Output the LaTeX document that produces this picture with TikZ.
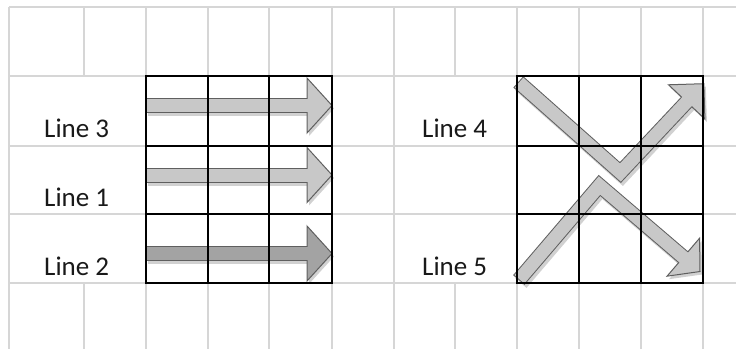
\documentclass[tikz,border=0pt]{standalone}
\usepackage{fontspec}
\setmainfont{Carlito}
\usetikzlibrary{calc}
\definecolor{cellgray}{RGB}{214,214,214}
\definecolor{arrowline}{RGB}{95,95,95}
\definecolor{arrowlight}{RGB}{200,200,200}
\definecolor{arrowdark}{RGB}{163,163,163}

\begin{document}
\begin{tikzpicture}[x=1pt, y=-1pt,
    cell/.style={draw=cellgray, line width=1.5pt},
    box/.style={draw=black, line width=1.1pt, line cap=rect},
    linelabel/.style={font=\fontsize{27}{32}\selectfont, text=black!90, inner sep=0pt, anchor=base west},
    shaftout/.style={line width=15pt, line join=miter},
    shaftin/.style={line width=13pt, line join=miter, shorten <=1pt, shorten >=-3pt}]
    \useasboundingbox (0,0) rectangle (736,349);

    % spreadsheet cells
    \foreach \y in {7,76,146,214,283}
        \draw[cell] (9,\y) -- (736,\y);
    \foreach \x in {9,146,208,269,332,394,517,579,641,703}
        \draw[cell] (\x,7) -- (\x,349);
    \foreach \x in {84,455} {
        \draw[cell] (\x,7) -- (\x,76);
        \draw[cell] (\x,283) -- (\x,349);
    }

    % labels
    \node[linelabel] (line3) at (44,137) {Line 3};
    \node[linelabel] (line1) at (44,206.5) {Line 1};
    \node[linelabel] (line2) at (44,275) {Line 2};
    \node[linelabel] (line4) at (422,137) {Line 4};
    \node[linelabel] (line5) at (422,275) {Line 5};

    % arrow paths: start, bend, head base, tip
    \coordinate (s3) at (146,105.5); \coordinate (v3) at (226,105.5);
    \coordinate (b3) at (307,105.5); \coordinate (t3) at (332,105.5);
    \coordinate (s1) at (146,175);   \coordinate (v1) at (226,175);
    \coordinate (b1) at (307,175);   \coordinate (t1) at (332,175);
    \coordinate (s2) at (146,253.5); \coordinate (v2) at (226,253.5);
    \coordinate (b2) at (307,253.5); \coordinate (t2) at (332,253.5);
    \coordinate (s4) at (518.3,81.9); \coordinate (v4) at (620.4,172.5);
    \coordinate (b4) at (686.7,101.9); \coordinate (t4) at (703.8,83.7);
    \coordinate (s5) at (518.8,280);  \coordinate (v5) at (599.5,185.5);
    \coordinate (b5) at (683.3,257.2); \coordinate (t5) at (700,271.5);

    \foreach \n/\c/\hw in {3/arrowlight/27.5pt, 1/arrowlight/27.5pt, 2/arrowdark/27.5pt,
                           4/arrowlight/25pt, 5/arrowlight/25pt} {
        \begin{scope}[transform canvas={xshift=2pt, yshift=-3pt}, black, opacity=0.18]
            \draw[shaftout] (s\n) -- (v\n) -- (b\n);
            \fill (t\n) -- ($(b\n)!\hw!90:(t\n)$) -- ($(b\n)!\hw!-90:(t\n)$) -- cycle;
        \end{scope}
        \draw[shaftout, arrowline] (s\n) -- (v\n) -- (b\n);
        \filldraw[fill=\c, draw=arrowline, line width=1pt, line join=miter]
            (t\n) -- ($(b\n)!\hw!90:(t\n)$) -- ($(b\n)!\hw!-90:(t\n)$) -- cycle;
        \draw[shaftin, \c] (s\n) -- (v\n) -- (b\n);
    }

    % black 3x3 blocks
    \foreach \x in {146,208,269,332,517,579,641,703}
        \draw[box] (\x,76) -- (\x,283);
    \foreach \y in {76,146,214,283} {
        \draw[box] (146,\y) -- (332,\y);
        \draw[box] (517,\y) -- (703,\y);
    }
\end{tikzpicture}
\end{document}
